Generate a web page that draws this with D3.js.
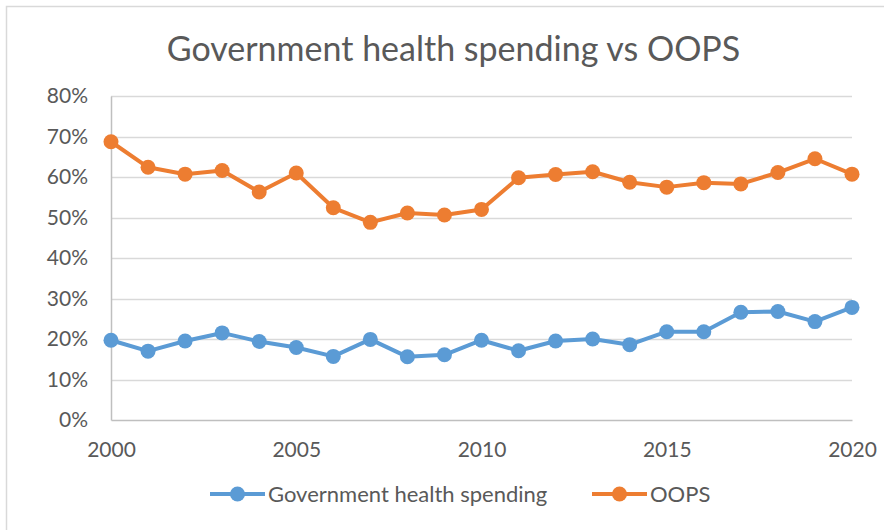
<!DOCTYPE html>
<html>
<head>
<meta charset="utf-8">
<script src="https://cdn.jsdelivr.net/npm/d3@7"></script>
<style>
  html, body { margin: 0; padding: 0; background: #ffffff; }
  svg { display: block; font-family: Lato, "Open Sans", sans-serif; }
</style>
</head>
<body>
<svg id="chart" width="884" height="530"></svg>
<script>
// Share of health spending, 2000-2020
const years = [2000, 2001, 2002, 2003, 2004, 2005, 2006, 2007, 2008, 2009, 2010,
               2011, 2012, 2013, 2014, 2015, 2016, 2017, 2018, 2019, 2020];
const governmentSpending = [19.7, 17.0, 19.5, 21.5, 19.4, 17.9, 15.7, 19.9, 15.6, 16.1, 19.7,
                            17.1, 19.5, 20.0, 18.6, 21.8, 21.8, 26.6, 26.8, 24.3, 27.8];
const oops = [68.7, 62.4, 60.7, 61.6, 56.3, 61.0, 52.4, 48.8, 51.1, 50.6, 52.0,
              59.8, 60.6, 61.3, 58.7, 57.5, 58.6, 58.3, 61.1, 64.5, 60.7];
const yTicks = [0, 10, 20, 30, 40, 50, 60, 70, 80];
const xTickYears = [2000, 2005, 2010, 2015, 2020];
const seriesNames = ["Government health spending", "OOPS"];
const seriesColors = ["#5B9BD5", "#ED7D31"];
const titleText = "Government health spending vs OOPS";

const series = [
  { name: seriesNames[0], color: seriesColors[0], values: governmentSpending },
  { name: seriesNames[1], color: seriesColors[1], values: oops }
];

const svg = d3.select("#chart");
const W = 884, H = 530;
const textColor = "#595959";

// Chart frame
svg.append("rect")
  .attr("x", 6.5).attr("y", 6.5)
  .attr("width", W).attr("height", H)
  .attr("fill", "#ffffff")
  .attr("stroke", "#d9d9d9").attr("stroke-width", 1.5);

const plot = { left: 111, right: 852, top: 96, bottom: 420 };

const x = d3.scaleLinear().domain([2000, 2020]).range([plot.left, plot.right]);
const y = d3.scaleLinear().domain([0, 80]).range([plot.bottom, plot.top]);

// Title
svg.append("text")
  .attr("x", 453.5).attr("y", 61)
  .attr("text-anchor", "middle")
  .attr("fill", textColor)
  .attr("font-size", 34)
  .text(titleText);

// Horizontal gridlines
svg.append("g")
  .selectAll("line")
  .data(yTicks.filter(t => t > 0))
  .join("line")
  .attr("x1", plot.left).attr("x2", plot.right)
  .attr("y1", d => Math.round(y(d)) + 0.5).attr("y2", d => Math.round(y(d)) + 0.5)
  .attr("stroke", "#d9d9d9").attr("stroke-width", 1.5);

// Y axis
const yAxis = svg.append("g")
  .attr("transform", `translate(${plot.left},0)`)
  .call(d3.axisLeft(y).tickValues(yTicks).tickFormat(d => d + "%").tickSize(0).tickPadding(23));
yAxis.select(".domain").attr("stroke", "#bfbfbf").attr("stroke-width", 1.5);
yAxis.selectAll("text")
  .attr("fill", textColor).attr("font-size", 21).attr("font-family", "Lato, sans-serif");

// X axis
const xAxis = svg.append("g")
  .attr("transform", `translate(0,${plot.bottom})`)
  .call(d3.axisBottom(x).tickValues(xTickYears).tickFormat(d3.format("d")).tickSize(0).tickPadding(22));
xAxis.select(".domain").attr("stroke", "#bfbfbf").attr("stroke-width", 1.5);
xAxis.selectAll("text")
  .attr("fill", textColor).attr("font-size", 21).attr("font-family", "Lato, sans-serif");

// Series lines and markers
const line = d3.line()
  .x((d, i) => x(years[i]))
  .y(d => y(d));

const groups = svg.append("g")
  .selectAll("g")
  .data(series)
  .join("g");

groups.append("path")
  .attr("d", d => line(d.values))
  .attr("fill", "none")
  .attr("stroke", d => d.color)
  .attr("stroke-width", 4)
  .attr("stroke-linejoin", "round");

groups.selectAll("circle")
  .data(d => d.values.map((v, i) => ({ v, i, color: d.color })))
  .join("circle")
  .attr("cx", d => x(years[d.i]))
  .attr("cy", d => y(d.v))
  .attr("r", 7.5)
  .attr("fill", d => d.color);

// Legend
const legendX = [210, 592];
const legend = svg.append("g")
  .selectAll("g")
  .data(series)
  .join("g")
  .attr("transform", (d, i) => `translate(${legendX[i]},494)`);

legend.append("line")
  .attr("x1", 0).attr("x2", 55)
  .attr("y1", 0).attr("y2", 0)
  .attr("stroke", d => d.color).attr("stroke-width", 4);
legend.append("circle")
  .attr("cx", 27.5).attr("cy", 0).attr("r", 7.5)
  .attr("fill", d => d.color);
legend.append("text")
  .attr("x", 58).attr("y", 0)
  .attr("dy", "0.36em")
  .attr("fill", textColor)
  .attr("font-size", 22)
  .text(d => d.name);
</script>
</body>
</html>
